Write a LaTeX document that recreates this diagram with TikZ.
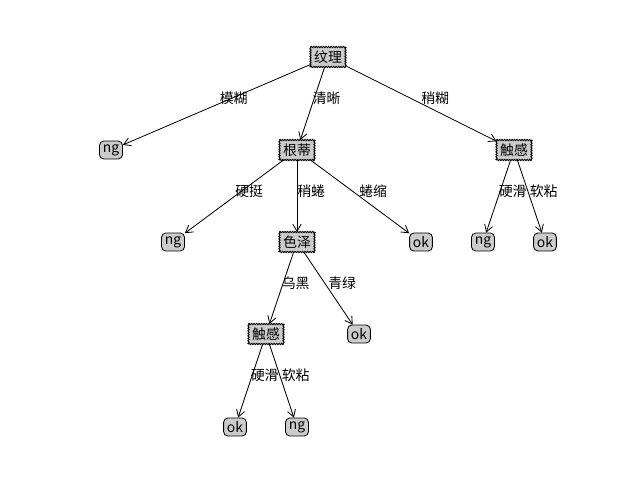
\documentclass[tikz,border=0pt]{standalone}
\usepackage{fontspec}
\setmainfont{Noto Sans CJK SC}
\usetikzlibrary{arrows.meta,decorations.pathmorphing}
\begin{document}
\begin{tikzpicture}[x=0.72pt,y=-0.72pt,
  decnode/.style={fill=black!20, inner sep=2.4pt},
  zz/.style={line width=0.6pt, decorate,
      decoration={zigzag, segment length=1.8pt, amplitude=0.5pt}},
  leafnode/.style={draw, fill=black!20, line width=0.6pt, rounded corners=3pt, inner sep=2.4pt},
  arr/.style={line width=0.6pt, -{Straight Barb[length=5pt,width=6pt]}},
  lbl/.style={anchor=base west, inner sep=0pt}]
\useasboundingbox (0,0) rectangle (640,480);
\node[decnode] (root) at (328,57) {纹理};
\node[leafnode] (a1) at (111,150) {ng};
\node[decnode] (gd) at (297,150) {根蒂};
\node[decnode] (cg1) at (514,150) {触感};
\node[leafnode] (b1) at (173,242) {ng};
\node[decnode] (sz) at (297,242) {色泽};
\node[leafnode] (b3) at (421,242) {ok};
\node[leafnode] (c1) at (483,242) {ng};
\node[leafnode] (c2) at (545,242) {ok};
\node[decnode] (cg2) at (266,334) {触感};
\node[leafnode] (d2) at (359,334) {ok};
\node[leafnode] (e1) at (235,427) {ok};
\node[leafnode] (e2) at (297,427) {ng};

\foreach \n in {root,gd,cg1,sz,cg2}{
  \draw[zz] (\n.north west) -- (\n.north east);
  \draw[zz] (\n.north east) -- (\n.south east);
  \draw[zz] (\n.south east) -- (\n.south west);
  \draw[zz] (\n.south west) -- (\n.north west);
}

\draw[arr] (root) -- (a1);
\draw[arr] (root) -- (gd);
\draw[arr] (root) -- (cg1);
\draw[arr] (gd) -- (b1);
\draw[arr] (gd) -- (sz);
\draw[arr] (gd) -- (b3);
\draw[arr] (cg1) -- (c1);
\draw[arr] (cg1) -- (c2);
\draw[arr] (sz) -- (cg2);
\draw[arr] (sz) -- (d2);
\draw[arr] (cg2) -- (e1);
\draw[arr] (cg2) -- (e2);

\node[lbl] (t1) at (219.5,103.5) {模糊};
\node[lbl] (t2) at (312.5,103.5) {清晰};
\node[lbl] (t3) at (421,103.5) {稍糊};
\node[lbl] (t4) at (235,196) {硬挺};
\node[lbl] (t5) at (297,196) {稍蜷};
\node[lbl] (t6) at (359,196) {蜷缩};
\node[lbl] (t7) at (498.5,196) {硬滑};
\node[lbl] (t8) at (529.5,196) {软粘};
\node[lbl] (t9) at (281.5,288) {乌黑};
\node[lbl] (t10) at (328,288) {青绿};
\node[lbl] (t11) at (250.5,380.5) {硬滑};
\node[lbl] (t12) at (281.5,380.5) {软粘};
\end{tikzpicture}
\end{document}
